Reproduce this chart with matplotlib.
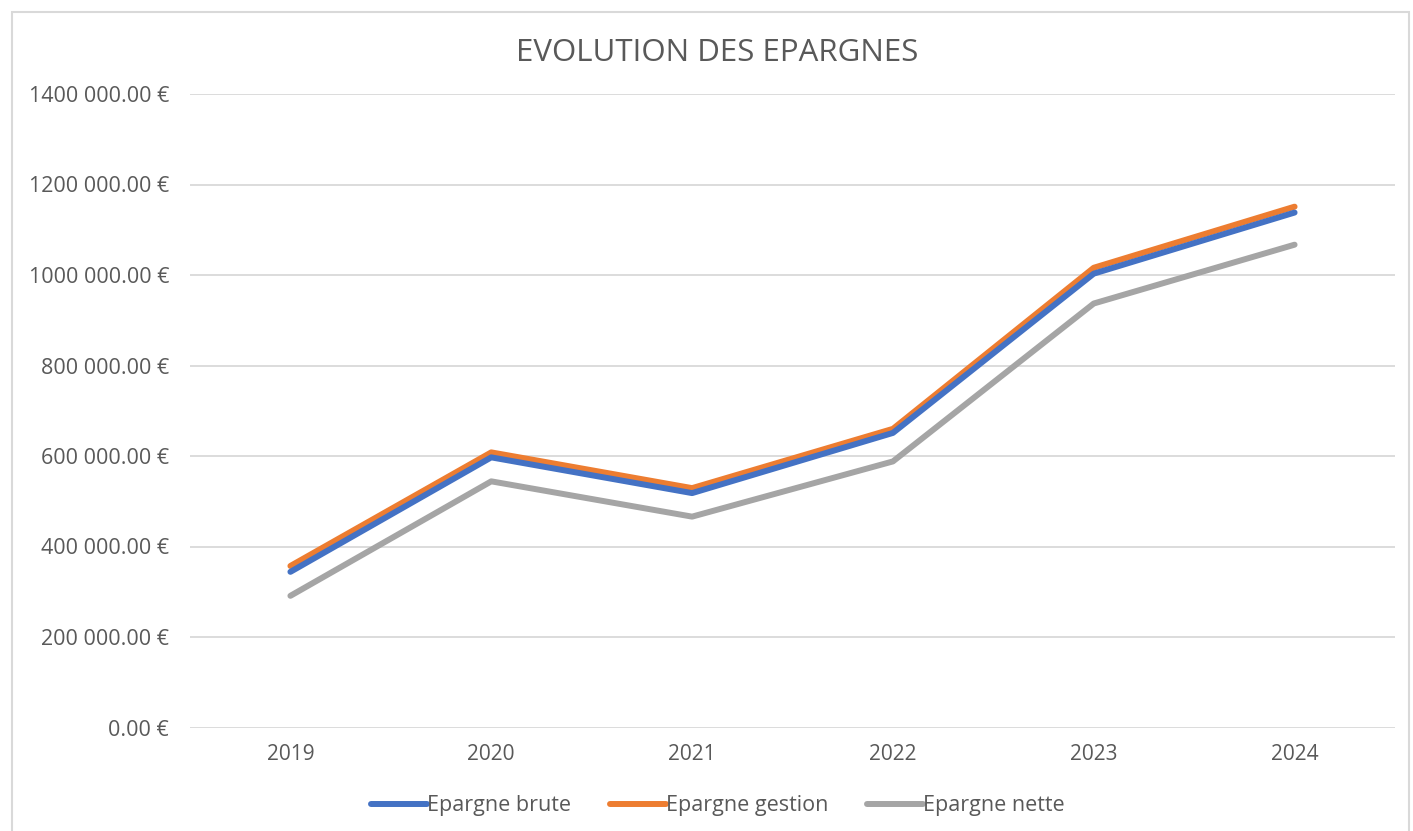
import matplotlib
matplotlib.use("Agg")
import matplotlib.pyplot as plt
from matplotlib.patches import Rectangle

# values
years = ["2019", "2020", "2021", "2022", "2023", "2024"]
epargne_brute = [344000, 597000, 518000, 651000, 1003000, 1138000]
epargne_gestion = [357000, 608000, 529000, 660000, 1016000, 1151000]
epargne_nette = [291000, 544000, 466000, 588000, 937000, 1067000]

ytick_values = [0, 200000, 400000, 600000, 800000, 1000000, 1200000, 1400000]
ytick_labels = ["0.00 €", "200 000.00 €", "400 000.00 €", "600 000.00 €",
                "800 000.00 €", "1000 000.00 €", "1200 000.00 €", "1400 000.00 €"]

plt.rcParams['font.family'] = ['Open Sans', 'DejaVu Sans']
text_grey = '#595959'

fig = plt.figure(figsize=(14.13, 8.31), dpi=100)
ax = fig.add_axes([190 / 1413, 1 - 727.5 / 831, 1205 / 1413, 633.5 / 831])

x = range(len(years))
ax.plot(x, epargne_brute, color='#4472C4', lw=4.3, solid_capstyle='round', label='Epargne brute', zorder=3)
ax.plot(x, epargne_gestion, color='#ED7D31', lw=4.3, solid_capstyle='round', label='Epargne gestion', zorder=2)
ax.plot(x, epargne_nette, color='#A5A5A5', lw=4.3, solid_capstyle='round', label='Epargne nette', zorder=2)

ax.set_xlim(-0.5, len(years) - 0.5)
ax.set_ylim(0, 1400000)
ax.set_xticks(list(x))
ax.set_xticklabels(years)
ax.set_yticks(ytick_values)
ax.set_yticklabels(ytick_labels)
ax.grid(axis='y', color='#D9D9D9', lw=1.3)
ax.set_axisbelow(True)
for s in ['top', 'right', 'left', 'bottom']:
    ax.spines[s].set_visible(False)
ax.tick_params(axis='y', length=0, labelsize=15.5, labelcolor=text_grey, pad=15)
ax.tick_params(axis='x', length=0, labelsize=15, labelcolor=text_grey, pad=12)

fig.text(717 / 1413, 1 - 53 / 831, "EVOLUTION DES EPARGNES", ha='center', va='center',
         fontsize=22.5, color=text_grey)

leg = fig.legend(loc='center', bbox_to_anchor=(718 / 1413, 1 - 806 / 831), ncol=3,
                 frameon=False, fontsize=15.5, handlelength=2.6, handletextpad=0.0,
                 columnspacing=1.8)
for t in leg.get_texts():
    t.set_color(text_grey)

# chart area border
fig.patches.append(Rectangle((12 / 1413, -0.01), 1397 / 1413, 1 - 12 / 831 + 0.01,
                             transform=fig.transFigure, fill=False,
                             edgecolor='#D9D9D9', lw=1.5))

fig.savefig("out.png", dpi=100)
